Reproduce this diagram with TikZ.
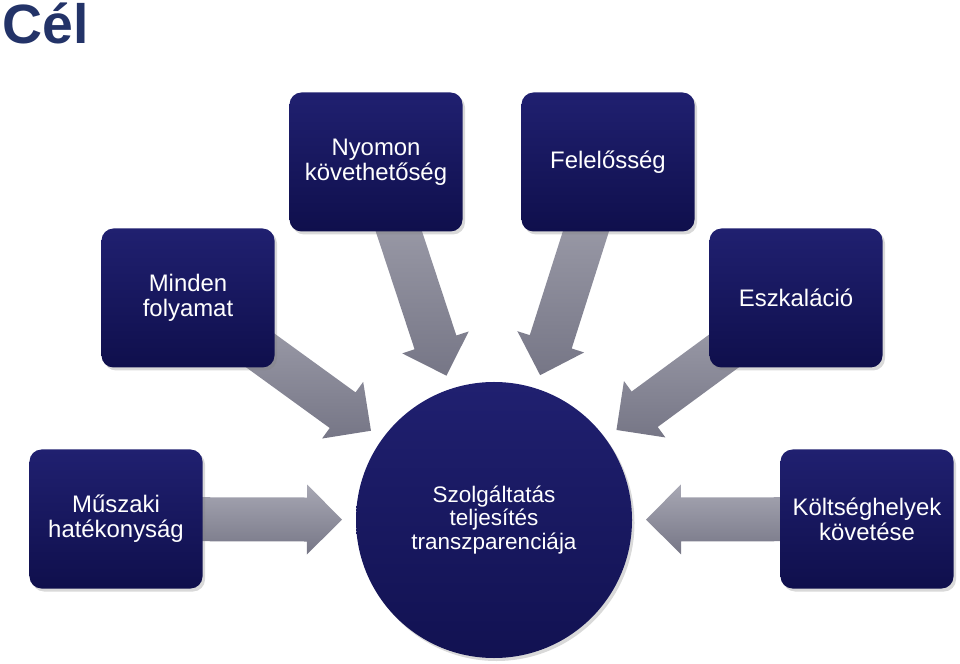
\documentclass[tikz,border=0pt]{standalone}
\usepackage{fontspec}
\setmainfont{Liberation Sans}
\usetikzlibrary{calc,shadows,backgrounds}
\definecolor{navytop}{RGB}{32,32,112}
\definecolor{navybot}{RGB}{15,15,76}
\definecolor{greytop}{RGB}{168,168,180}
\definecolor{greybot}{RGB}{118,118,134}
\definecolor{titleblue}{RGB}{35,51,104}
\tikzset{
  goalbox/.style={rounded corners=2.4mm, minimum width=34.6mm, minimum height=27.8mm,
    top color=navytop, bottom color=navybot, text=white, align=center,
    font=\fontsize{13.6}{14.4}\selectfont,
    drop shadow={shadow xshift=0.5mm, shadow yshift=-0.6mm, opacity=0.3}},
  hubdisc/.style={circle, minimum size=55.2mm, top color=navytop,
    bottom color=navybot!85!navytop, text=white, align=center,
    font=\fontsize{12.8}{13.4}\selectfont,
    drop shadow={shadow xshift=0.5mm, shadow yshift=-0.6mm, opacity=0.3}},
  arrowfill/.style={top color=greytop, bottom color=greybot}
}
% block arrow from a box towards the hub
\newcommand{\blockarrow}[2]{%
  \coordinate (tip) at ($(#2.center)!30.4mm!(#1.center)$);
  \coordinate (neck) at ($(#2.center)!37.4mm!(#1.center)$);
  \shade[arrowfill] ($(#1.center)!4.4mm!90:(tip)$)
    -- ($(neck)!4.4mm!-90:(#1.center)$)
    -- ($(neck)!7mm!-90:(#1.center)$)
    -- (tip)
    -- ($(neck)!7mm!90:(#1.center)$)
    -- ($(neck)!4.4mm!90:(#1.center)$)
    -- ($(#1.center)!4.4mm!-90:(tip)$) -- cycle;
}
\begin{document}
\begin{tikzpicture}[x=0.2mm, y=-0.2mm]
    \useasboundingbox (0,0) rectangle (960,664);
    % Title
    \node[anchor=base west, inner sep=0pt, text=titleblue,
      font=\fontsize{31.5}{31.5}\selectfont\bfseries] (title) at (2,44) {Cél};
    % Boxes
    \node[goalbox] (nyomon) at (376,162) {Nyomon\\követhetőség};
    \node[goalbox] (felelos) at (608,162) {Felelősség};
    \node[goalbox] (minden) at (188,298) {Minden\\folyamat};
    \node[goalbox] (eszkal) at (796,298) {Eszkaláció};
    \node[goalbox] (muszaki) at (116,519) {Műszaki\\hatékonyság};
    \node[goalbox] (koltseg) at (867,519) {Költséghelyek\\követése};
    % Hub
    \node[hubdisc] (service) at (494,520) {Szolgáltatás\\teljesítés\\transzparenciája};
    % Arrows
    \begin{scope}[on background layer]
        \foreach \b in {nyomon,felelos,minden,eszkal,muszaki,koltseg}
            {\blockarrow{\b}{service}}
    \end{scope}
\end{tikzpicture}
\end{document}
